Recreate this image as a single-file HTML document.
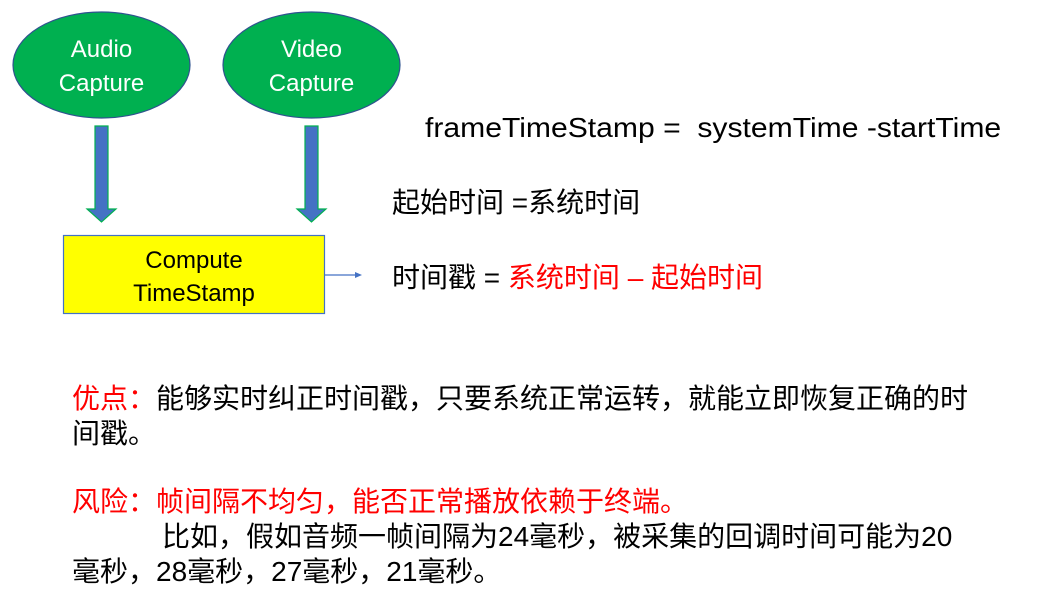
<!DOCTYPE html>
<html><head><meta charset="utf-8"><style>
body{margin:0;width:1050px;height:612px;background:#fff;position:relative;overflow:hidden;font-family:"Liberation Sans","Noto Sans CJK SC",sans-serif}
.t{position:absolute;white-space:nowrap;color:#000}
.r{color:#f00}
</style></head><body>
<svg width="1050" height="612" style="position:absolute;left:0;top:0">
<ellipse cx="101.5" cy="65" rx="88.5" ry="53" fill="#00b050" stroke="#2f528f" stroke-width="1.2"/>
<ellipse cx="311.5" cy="65" rx="88.5" ry="53" fill="#00b050" stroke="#2f528f" stroke-width="1.2"/>
<text x="101.5" y="57" font-size="24" fill="#fff" text-anchor="middle" font-family="Liberation Sans,sans-serif">Audio</text>
<text x="101.5" y="91" font-size="24" fill="#fff" text-anchor="middle" font-family="Liberation Sans,sans-serif">Capture</text>
<text x="311.5" y="57" font-size="24" fill="#fff" text-anchor="middle" font-family="Liberation Sans,sans-serif">Video</text>
<text x="311.5" y="91" font-size="24" fill="#fff" text-anchor="middle" font-family="Liberation Sans,sans-serif">Capture</text>
<polygon points="95,126 108,126 108,209 116,209 101.5,222 87,209 95,209" fill="#4472c4" stroke="#00b050" stroke-width="1.2"/>
<polygon points="305,126 318,126 318,209 326,209 311.5,222 297,209 305,209" fill="#4472c4" stroke="#00b050" stroke-width="1.2"/>
<rect x="63.5" y="235.5" width="261" height="78" fill="#ffff00" stroke="#4472c4" stroke-width="1.2"/>
<text x="194" y="268" font-size="24" text-anchor="middle" font-family="Liberation Sans,sans-serif">Compute</text>
<text x="194" y="301" font-size="24" text-anchor="middle" font-family="Liberation Sans,sans-serif">TimeStamp</text>
<line x1="325" y1="275" x2="356" y2="275" stroke="#4472c4" stroke-width="1.2"/>
<polygon points="362,275 355,272 355,278" fill="#4472c4"/>
</svg>
<div class="t" style="left:425px;top:112px;font-size:28px;transform:scaleX(1.075);transform-origin:0 0">frameTimeStamp =&nbsp; systemTime -startTime</div>
<div class="t" style="left:392px;top:181px;font-size:28px">起始时间 =系统时间</div>
<div class="t" style="left:392px;top:256px;font-size:28px">时间戳 = <span class="r">系统时间 – 起始时间</span></div>
<div class="t" style="left:72px;top:381px;font-size:28px;line-height:35px"><span class="r">优点：</span>能够实时纠正时间戳，只要系统正常运转，就能立即恢复正确的时<br>间戳。</div>
<div class="t" style="left:72px;top:484px;font-size:28px;line-height:35px"><span class="r">风险：帧间隔不均匀，能否正常播放依赖于终端。</span><br><span style="padding-left:90px">比如，假如音频一帧间隔为24毫秒，被采集的回调时间可能为20</span><br>毫秒，28毫秒，27毫秒，21毫秒。</div>
</body></html>
